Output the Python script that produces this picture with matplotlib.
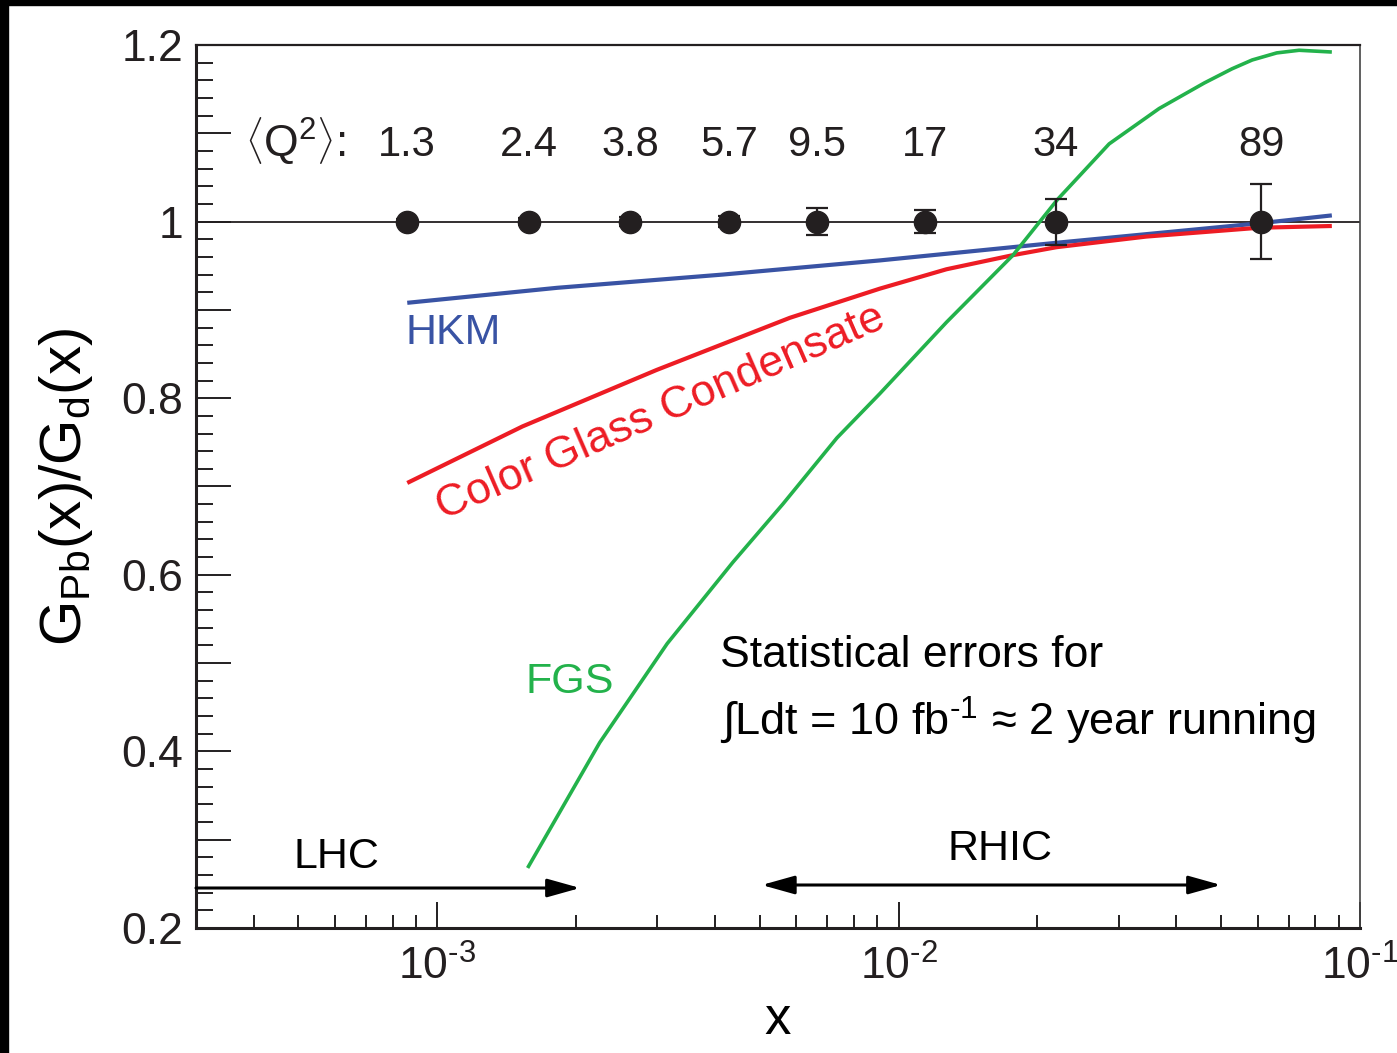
import numpy as np
import matplotlib
matplotlib.use("Agg")
import matplotlib.pyplot as plt
from matplotlib.patches import Rectangle
from matplotlib.ticker import FixedLocator, MultipleLocator, FuncFormatter, LogLocator, NullFormatter

plt.rcParams['font.family'] = ['Liberation Sans', 'DejaVu Sans']
plt.rcParams['mathtext.fontset'] = 'custom'
plt.rcParams['mathtext.rm'] = 'Liberation Sans'
plt.rcParams['mathtext.it'] = 'Liberation Sans:italic'
plt.rcParams['mathtext.bf'] = 'Liberation Sans:bold'

# pseudo-data points (ratio = 1) with statistical errors
pt_x = [8.6e-4, 1.58e-3, 2.62e-3, 4.29e-3, 6.65e-3, 1.14e-2, 2.19e-2, 6.11e-2]
pt_y = [1.0, 1.0, 1.0, 1.0, 1.0, 1.0, 1.0, 1.0]
pt_err = [0.003, 0.004, 0.005, 0.006, 0.015, 0.013, 0.026, 0.042]
q2_labels = ["1.3", "2.4", "3.8", "5.7", "9.5", "17", "34", "89"]

# model curves
hkm_x = [8.61e-4, 1.82e-3, 4.16e-3, 9.1e-3, 2.20e-2, 6.04e-2, 8.69e-2]
hkm_y = [0.908, 0.925, 0.940, 0.956, 0.976, 0.998, 1.007]

cgc_x = [8.61e-4, 1.53e-3, 2.99e-3, 5.81e-3, 9.1e-3, 1.27e-2, 1.77e-2, 2.20e-2, 3.44e-2, 6.04e-2, 8.69e-2]
cgc_y = [0.704, 0.768, 0.832, 0.891, 0.924, 0.946, 0.962, 0.971, 0.983, 0.993, 0.995]

fgs_x = [1.57e-3, 2.25e-3, 3.15e-3, 4.37e-3, 5.61e-3, 7.35e-3, 9.1e-3, 1.27e-2, 1.77e-2,
         2.21e-2, 2.86e-2, 3.67e-2, 4.6e-2, 5.28e-2, 5.84e-2, 6.6e-2, 7.38e-2, 8.69e-2]
fgs_y = [0.268, 0.410, 0.522, 0.614, 0.680, 0.755, 0.805, 0.886, 0.962,
         1.025, 1.088, 1.128, 1.157, 1.173, 1.183, 1.191, 1.194, 1.192]

BLUE = '#3953a4'
RED = '#ed1c24'
GREEN = '#23b24b'
INK = '#231f20'

fig = plt.figure(figsize=(13.97, 10.53), dpi=100)
ax = fig.add_axes([0.1403, 0.1187, 0.8332, 0.8386])

ax.set_xscale('log')
ax.set_xlim(3e-4, 1e-1)
ax.set_ylim(0.2, 1.2)

ax.axhline(1.0, color=INK, lw=1.3, zorder=2)

ax.plot(hkm_x, hkm_y, color=BLUE, lw=3, zorder=3, solid_capstyle='butt', solid_joinstyle='round')
ax.plot(cgc_x, cgc_y, color=RED, lw=3, zorder=3, solid_capstyle='butt', solid_joinstyle='round')
ax.plot(fgs_x, fgs_y, color=GREEN, lw=2.6, zorder=3, solid_capstyle='butt', solid_joinstyle='round')

ax.errorbar(pt_x, pt_y, yerr=pt_err, fmt='o', color=INK, ms=16, elinewidth=1.6,
            capsize=8, capthick=1.6, zorder=4)

for x, lab in zip(pt_x, q2_labels):
    ax.text(x, 1.074, lab, ha='center', va='baseline', fontsize=30, color=INK)
ax.text(3.84e-4, 1.074, r'$\left\langle \mathrm{Q}^{2} \right\rangle$:', ha='left', va='baseline',
        fontsize=32, color=INK)

ax.text(8.53e-4, 0.861, 'HKM', color=BLUE, fontsize=31, ha='left', va='baseline')
ax.text(3.05e-3, 0.783, 'Color Glass Condensate', color=RED, fontsize=32, ha='center', va='center',
        rotation=23.5, rotation_mode='anchor')
ax.text(1.55e-3, 0.466, 'FGS', color=GREEN, fontsize=31, ha='left', va='baseline')

ax.text(4.10e-3, 0.496, 'Statistical errors for', fontsize=32, color='black', ha='left', va='baseline')
ax.text(4.10e-3, 0.419, r'$\int$Ldt = 10 fb$^{\mathrm{‐1}}$ ≈ 2 year running', fontsize=32.5,
        color='black', ha='left', va='baseline')

# collider reach arrows
ax.annotate('', xy=(2.04e-3, 0.2453), xytext=(3e-4, 0.2453),
            arrowprops=dict(arrowstyle='-|>,head_length=1.0,head_width=0.28', mutation_scale=20,
                            lw=2.2, color='black', shrinkA=0, shrinkB=0))
ax.annotate('', xy=(5.0e-2, 0.2487), xytext=(5.05e-3, 0.2487),
            arrowprops=dict(arrowstyle='<|-|>,head_length=1.0,head_width=0.28', mutation_scale=20,
                            lw=2.2, color='black', shrinkA=0, shrinkB=0))
ax.text(6.04e-4, 0.268, 'LHC', fontsize=31, ha='center', va='baseline')
ax.text(1.655e-2, 0.277, 'RHIC', fontsize=31, ha='center', va='baseline')

# axes styling
ax.xaxis.set_major_locator(FixedLocator([1e-3, 1e-2, 1e-1]))
ax.xaxis.set_major_formatter(FuncFormatter(lambda v, p: r'$10^{\mathrm{‐%d}}$' % abs(round(np.log10(v)))))
ax.xaxis.set_minor_locator(LogLocator(base=10, subs=np.arange(2, 10)))
ax.xaxis.set_minor_formatter(NullFormatter())

ax.yaxis.set_major_locator(MultipleLocator(0.1))
ax.yaxis.set_minor_locator(MultipleLocator(0.02))


def ylab(v, p):
    k = int(round(v * 10))
    if k % 2:
        return ''
    return '1' if k == 10 else '%.1f' % v


ax.yaxis.set_major_formatter(FuncFormatter(ylab))

ax.tick_params(axis='both', which='both', direction='in', colors=INK, top=False, right=False)
ax.tick_params(axis='y', which='major', length=25, width=1.4, pad=9, labelsize=32)
ax.tick_params(axis='y', which='minor', length=12, width=1.4)
ax.tick_params(axis='x', which='major', length=19, width=1.4, pad=13, labelsize=32)
ax.tick_params(axis='x', which='minor', length=9.5, width=1.4)

for side in ('left', 'bottom'):
    ax.spines[side].set_linewidth(2.2)
    ax.spines[side].set_color(INK)
ax.spines['top'].set_linewidth(1.6)
ax.spines['top'].set_color(INK)
ax.spines['right'].set_linewidth(1.2)
ax.spines['right'].set_color('#444444')

ax.set_xlabel('x', fontsize=38, labelpad=4)
ax.set_ylabel(r'G$_{\mathrm{Pb}}$(x)/G$_{\mathrm{d}}$(x)', fontsize=42, labelpad=19)

# dark frame strips along the top and left edges
fig.patches.append(Rectangle((0, 1 - 5 / 1053), 1, 5 / 1053, transform=fig.transFigure,
                             color='black', zorder=10))
fig.patches.append(Rectangle((0, 0), 8 / 1397, 1, transform=fig.transFigure,
                             color='black', zorder=10))

fig.savefig('out.png', dpi=100)
